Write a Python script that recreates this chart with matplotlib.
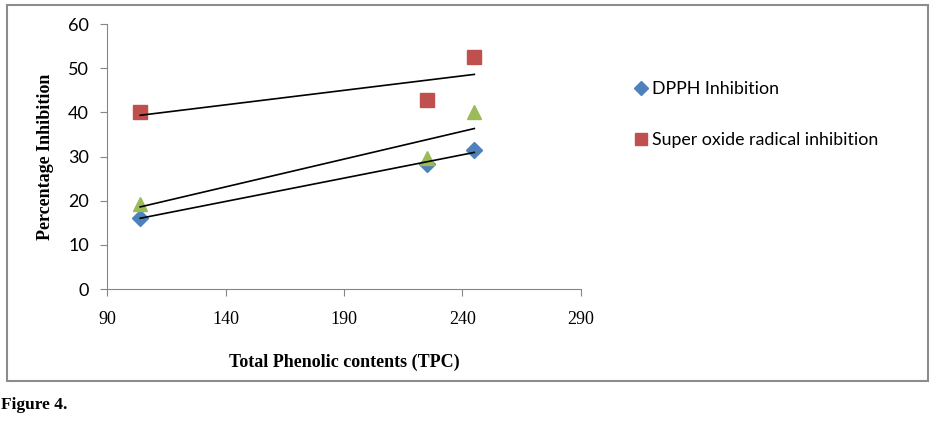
import numpy as np
from matplotlib import pyplot as plt
from matplotlib.patches import Rectangle


tpc = [104, 225, 245]
dpph = [16.1, 28.3, 31.4]
superoxide = [40.0, 42.8, 52.5]
third = [19.2, 29.6, 40.0]

x_ticks = [90, 140, 190, 240, 290]
y_ticks = [0, 10, 20, 30, 40, 50, 60]

fig = plt.figure(figsize=(9.33, 4.32), dpi=100)
ax = fig.add_axes([0.1147, 0.331, 0.508, 0.613])

ax.plot(tpc, dpph, linestyle="none", marker="D", markersize=8.5,
        color="#4F81BD", label="DPPH Inhibition")
ax.plot(tpc, superoxide, linestyle="none", marker="s", markersize=10,
        color="#C0504D", label="Super oxide radical inhibition")
ax.plot(tpc, third, linestyle="none", marker="^", markersize=10,
        color="#9BBB59", label="_nolegend_")

# linear trendlines
for ys in [superoxide, third, dpph]:
    m, b = np.polyfit(tpc, ys, 1)
    xs = np.array([min(tpc), max(tpc)])
    ax.plot(xs, m * xs + b, color="black", linewidth=1.2, label="_nolegend_")

ax.set_xlim(90, 290)
ax.set_ylim(0, 60)
ax.set_xticks(x_ticks)
ax.set_yticks(y_ticks)
ax.set_xticklabels([str(t) for t in x_ticks], fontfamily="Liberation Serif", fontsize=13)
ax.set_yticklabels([str(t) for t in y_ticks], fontfamily="Lato", fontsize=13)
ax.tick_params(axis="x", length=5, color="#868686", pad=11)
ax.tick_params(axis="y", length=5, color="#868686", pad=8)

for side in ["top", "right"]:
    ax.spines[side].set_visible(False)
for side in ["left", "bottom"]:
    ax.spines[side].set_color("#868686")

ax.set_xlabel("Total Phenolic contents (TPC)", fontfamily="Liberation Serif",
              fontweight="bold", fontsize=13, labelpad=18)
ax.set_ylabel("Percentage Inhibition", fontfamily="Liberation Serif",
              fontweight="bold", fontsize=13, labelpad=10)

leg = ax.legend(loc="upper left", bbox_to_anchor=(1.07, 0.845), frameon=False,
                prop={"family": "Lato", "size": 12.8}, handletextpad=0.05,
                handlelength=1.2, labelspacing=1.95, markerscale=0.85)

fig.patches.append(Rectangle((0.0075, 0.118), 0.987, 0.870, transform=fig.transFigure,
                             fill=False, edgecolor="#8c8c8c", linewidth=1.5))
fig.text(0.001, 0.062, "Figure 4.", fontfamily="Liberation Serif",
         fontweight="bold", fontsize=12.5, va="center")

plt.savefig("out.png")
